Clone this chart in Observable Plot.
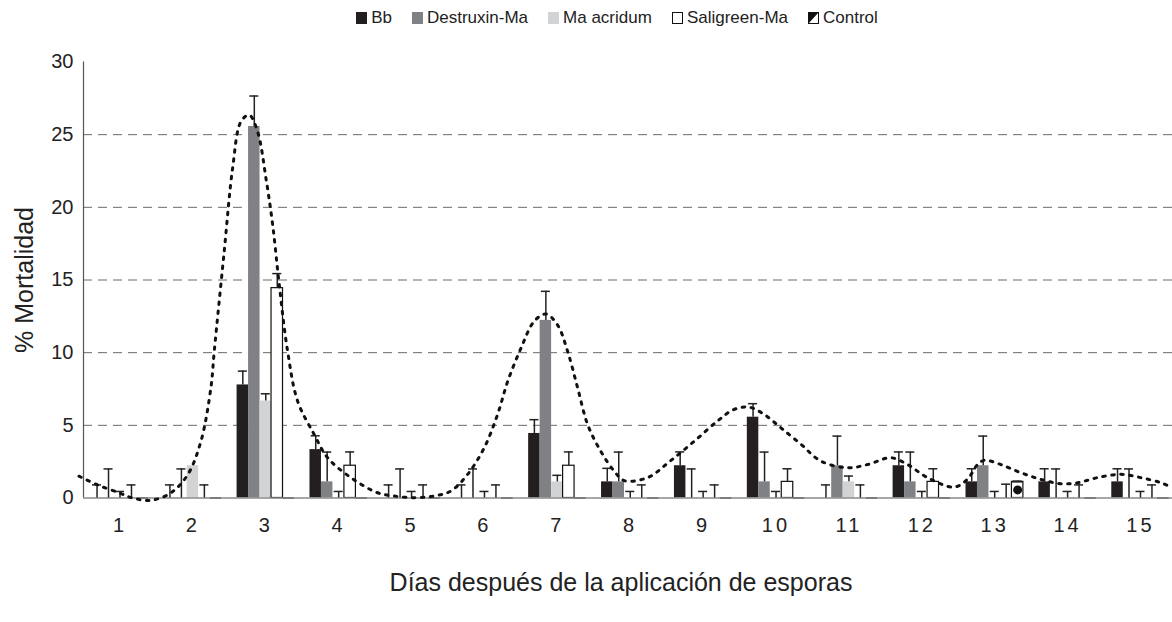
<!DOCTYPE html>
<html><head><meta charset="utf-8">
<script src="https://cdn.jsdelivr.net/npm/d3@7"></script>
<script src="https://cdn.jsdelivr.net/npm/@observablehq/plot@0.6"></script>
<style>
body{margin:0;background:#fff;font-family:"Liberation Sans",Arial,sans-serif;}
#legend{height:36px;display:flex;justify-content:center;align-items:center;gap:20px;font-size:17px;color:#222;padding-left:62px;box-sizing:border-box;width:1172px}
.item{display:flex;align-items:center;gap:4px}
.item svg{display:block}
</style></head>
<body><div id="legend"></div><div id="chart"></div>
<script>
// ---- data ----
const days = [1,2,3,4,5,6,7,8,9,10,11,12,13,14,15];
const seriesNames = ["Bb","Destruxin-Ma","Ma acridum","Saligreen-Ma","Control"];
const seriesColors = ["#231f20","#808184","#d1d3d4","#ffffff","#ffffff"];
const bbValues   = [0,0,7.78,3.33,0,0,4.44,1.11,2.22,5.56,0,2.22,1.11,1.11,1.11];
const bbErrors   = [0.9,0.9,0.95,0.95,0.9,0.9,0.95,0.93,0.95,0.93,0.9,0.95,0.9,0.9,0.9];
const dxValues   = [0,0,25.56,1.11,0,0,12.22,1.11,0,1.11,2.22,1.11,2.22,0,0];
const dxErrors   = [2.0,2.0,2.1,2.05,2.0,2.0,2.0,2.05,2.0,2.05,2.04,2.05,2.04,2.0,2.0];
const maValues   = [0,2.22,6.67,0,0,0,1.11,0,0,0,1.11,0,0,0,0];
const maErrors   = [0.45,0,0.5,0.45,0.45,0.45,0.45,0.45,0.45,0.45,0.4,0.45,0.45,0.45,0.45];
const salValues  = [0,0,14.44,2.22,0,0,2.22,0,0,1.11,0,1.11,0,0,0];
const salErrors  = [0.9,0.9,1.0,0.95,0.9,0.9,0.95,0.9,0.9,0.9,0.9,0.9,0.95,0.9,0.9];
const ctlValues  = [0,0,0,0,0,0,0,0,0,0,0,0,1.11,0,0];
const ctlErrors  = [0,0,0,0,0,0,0,0,0,0,0,0,0.05,0,0];
const yTicks = [0,5,10,15,20,25,30];
const gridValues = [5,10,15,20,25];
// dashed trend curve (x in day units, y in %)
const curveX = [0.438,0.694,0.986,1.174,1.425,1.700,1.929,2.111,2.248,2.294,2.431,2.546,2.660,2.774,2.889,3.003,3.095,3.185,3.300,3.438,3.665,3.849,4.169,4.535,4.759,5.033,5.307,5.540,5.770,5.997,6.181,6.318,6.501,6.683,6.844,7.004,7.141,7.278,7.416,7.598,7.781,7.918,8.239,8.539,8.878,9.199,9.427,9.632,9.838,10.067,10.342,10.616,10.982,11.256,11.576,11.805,12.080,12.444,12.628,12.765,12.856,13.085,13.359,13.634,13.908,14.137,14.411,14.731,15.005,15.280,15.440];
const curveY = [1.5,0.9,0.36,0.0,-0.16,0.36,1.6,3.9,7.6,10.1,17.0,22.7,25.9,26.35,25.2,22.0,18.8,14.7,10.1,6.66,4.37,2.77,1.4,0.36,0.14,0.02,0.14,0.48,1.63,3.45,5.75,8.0,10.3,12.16,12.66,11.9,10.1,7.6,5.06,3.2,1.85,1.2,1.4,2.5,3.9,5.3,6.1,6.25,5.75,4.83,3.7,2.54,2.08,2.3,2.77,2.3,1.4,0.75,1.3,2.3,2.59,2.3,1.74,1.28,0.98,1.05,1.4,1.63,1.4,1.05,0.7];
const xTitle = "Días después de la aplicación de esporas";
const yTitle = "% Mortalidad";

// ---- build table ----
const allValues = [bbValues,dxValues,maValues,salValues,ctlValues];
const allErrors = [bbErrors,dxErrors,maErrors,salErrors,ctlErrors];
const rows = [];
seriesNames.forEach((s,i)=>days.forEach((d,j)=>rows.push({day:d,series:s,idx:i,value:allValues[i][j],err:allErrors[i][j]})));
const curve = curveX.map((x,i)=>({x, y:curveY[i]}));

const groupStart = -0.393, barW = 0.1575, capHalf = 0.062;
const left = r => r.day + groupStart + r.idx*barW;
const right = r => left(r) + barW;
const mid = r => left(r) + barW/2;

// ---- legend ----
const leg = d3.select("#legend");
seriesNames.forEach((s,i)=>{
  const it = leg.append("div").attr("class","item");
  const sv = it.append("svg").attr("width",11).attr("height",12);
  sv.append("rect").attr("x",0.5).attr("y",0.5).attr("width",10).attr("height",11)
    .attr("fill",seriesColors[i]).attr("stroke", i>=3 ? "#111" : seriesColors[i]).attr("stroke-width",1);
  if (i===4) sv.append("polygon").attr("points","0.5,0.5 10.5,0.5 0.5,11.5").attr("fill","#111");
  it.append("span").text(s);
});

// ---- chart ----
const chart = Plot.plot({
  width: 1172, height: 586,
  marginLeft: 83, marginRight: 0, marginTop: 25.5, marginBottom: 124.5,
  style: {fontFamily: '"Liberation Sans", Arial, sans-serif', fontSize: "20px", color: "#222", background: "#fff"},
  x: {type: "linear", domain: [0.5, 15.44]},
  y: {domain: [0, 30]},
  color: {domain: seriesNames, range: seriesColors},
  marks: [
    Plot.ruleY(gridValues, {stroke: "#6a6a6a", strokeWidth: 1, strokeDasharray: "9,6"}),
    Plot.rectY(rows.filter(r=>r.value>0), {x1: left, x2: right, y1: 0, y2: "value", fill: "series"}),
    Plot.rectY(rows.filter(r=>r.value>0 && r.idx>=3), {x1: left, x2: right, y1: 0, y2: "value", fill: "none", stroke: "#111", strokeWidth: 1.2}),
    Plot.dot(rows.filter(r=>r.idx===4 && r.value>0), {x: mid, y: r=>r.value/2, r: 4.5, fill: "#111"}),
    Plot.ruleY(rows.filter(r=>r.idx===4), {x1: left, x2: right, y: "value", stroke: "#111", strokeWidth: 1.4}),
    Plot.ruleX([0.5], {y1: 0, y2: 30, stroke: "#555", strokeWidth: 1.2}),
    Plot.ruleY([0], {stroke: "#8a8a8a", strokeWidth: 1.4}),
    Plot.ruleX(rows.filter(r=>r.err>0), {x: mid, y1: "value", y2: r=>r.value+r.err, stroke: "#222", strokeWidth: 1.5}),
    Plot.ruleY(rows.filter(r=>r.err>0), {x1: r=>mid(r)-capHalf, x2: r=>mid(r)+capHalf, y: r=>r.value+r.err, stroke: "#222", strokeWidth: 1.5}),
    Plot.line(curve, {x: "x", y: "y", curve: "catmull-rom", stroke: "#111", strokeWidth: 3, strokeDasharray: "2.5,6.5", strokeLinecap: "round"}),
    Plot.axisY({ticks: yTicks, tickSize: 0, tickPadding: 10, label: null, fontSize: 20, tickFormat: d=>String(d)}),
    Plot.axisX({ticks: days, tickSize: 0, tickPadding: 20, label: null, fontSize: 20, tickFormat: d=>String(d)}),
    Plot.text([yTitle], {frameAnchor: "left", textAnchor: "middle", rotate: -90, dx: -59, dy: 0, fontSize: 25, fill: "#222"}),
    Plot.text([xTitle], {frameAnchor: "bottom", dx: -7, dy: 84.5, lineAnchor: "middle", fontSize: 25, fill: "#222"})
  ]
});
document.getElementById("chart").appendChild(chart);
d3.select(chart).selectAll('[aria-label="x-axis tick label"] text').style("letter-spacing","3px");
</script>
</body></html>
